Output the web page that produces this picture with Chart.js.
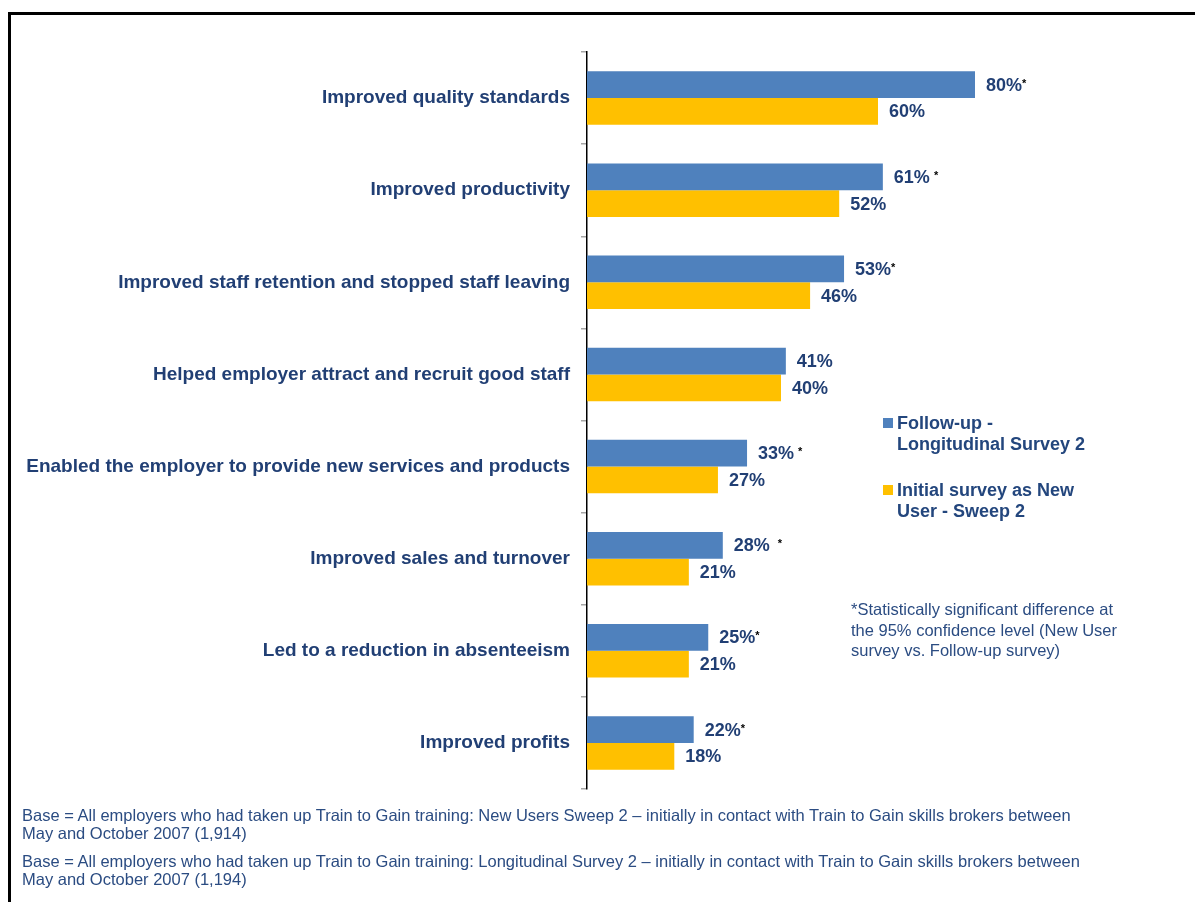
<!DOCTYPE html>
<html>
<head>
<meta charset="utf-8">
<script src="https://cdn.jsdelivr.net/npm/chart.js@4"></script>
<style>
  body{margin:0;background:#fff;font-family:"Liberation Sans",Arial,sans-serif;}
  #wrap{position:relative;width:1195px;height:902px;overflow:hidden;}
  #frame{position:absolute;left:8px;top:12px;width:1200px;height:900px;border-top:3px solid #000;border-left:3px solid #000;}
  #myChart{position:absolute;left:0;top:0;}
  .leg{position:absolute;left:883px;font-weight:bold;font-size:18px;color:#23467d;line-height:21px;}
  .leg span.box{position:absolute;left:0;top:5px;width:10px;height:10px;}
  .leg div{margin-left:14px;}
  #note{position:absolute;left:851px;top:599px;font-size:16.5px;color:#2b4c82;line-height:20.5px;}
  .base{position:absolute;left:22px;font-size:16.5px;color:#2b4c82;line-height:18px;}
</style>
</head>
<body>
<div id="wrap">
  <canvas id="myChart" width="1195" height="902"></canvas>
  <div id="frame"></div>
  <div class="leg" style="top:413px"><span class="box" style="background:#4f81bd"></span><div>Follow-up -<br>Longitudinal Survey 2</div></div>
  <div class="leg" style="top:480px"><span class="box" style="background:#ffc000"></span><div>Initial survey as New<br>User - Sweep 2</div></div>
  <div id="note">*Statistically significant difference at<br>the 95% confidence level (New User<br>survey vs. Follow-up survey)</div>
  <div class="base" style="top:806px">Base = All employers who had taken up Train to Gain training: New Users Sweep 2 – initially in contact with Train to Gain skills brokers between<br>May and October 2007 (1,914)</div>
  <div class="base" style="top:852px">Base = All employers who had taken up Train to Gain training: Longitudinal Survey 2 – initially in contact with Train to Gain skills brokers between<br>May and October 2007 (1,194)</div>
</div>
<script>
// categories, top to bottom
const categories=[
  "Improved quality standards",
  "Improved productivity",
  "Improved staff retention and stopped staff leaving",
  "Helped employer attract and recruit good staff",
  "Enabled the employer to provide new services and products",
  "Improved sales and turnover",
  "Led to a reduction in absenteeism",
  "Improved profits"
];
const followUp=[80,61,53,41,33,28,25,22];
const initialSurvey=[60,52,46,40,27,21,21,18];
// significance marks after the follow-up labels
const sigMarks=["*"," *","*",""," *","  *","*","*"];

const textBlue='#213f74';

// draws the percent labels next to the bars
const valueLabels={
  id:'valueLabels',
  afterDatasetsDraw(chart){
    const ctx=chart.ctx;
    ctx.save();
    ctx.textBaseline='middle';
    ctx.textAlign='left';
    chart.data.datasets.forEach((ds,di)=>{
      const meta=chart.getDatasetMeta(di);
      meta.data.forEach((bar,i)=>{
        const txt=ds.data[i]+'%';
        ctx.font='bold 18px "Liberation Sans", Arial, sans-serif';
        ctx.fillStyle=textBlue;
        const x=bar.x+11;
        ctx.fillText(txt,x,bar.y+1);
        if(di==0 && sigMarks[i]){
          const w=ctx.measureText(txt).width;
          ctx.font='bold 11px "Liberation Sans", Arial, sans-serif';
          ctx.fillStyle='#000';
          const pad=(sigMarks[i].length-1)*4;
          ctx.fillText('*',x+w+pad,bar.y-1);
        }
      });
    });
    ctx.restore();
  }
};

new Chart(document.getElementById('myChart'),{
  type:'bar',
  data:{
    labels:categories,
    datasets:[
      {label:'Follow-up - Longitudinal Survey 2',data:followUp,backgroundColor:'#4f81bd'},
      {label:'Initial survey as New User - Sweep 2',data:initialSurvey,backgroundColor:'#ffc000'}
    ]
  },
  options:{
    indexAxis:'y',
    responsive:false,
    animation:false,
    datasets:{bar:{categoryPercentage:0.58,barPercentage:1}},
    layout:{padding:{top:52,bottom:113,right:123,left:0}},
    plugins:{legend:{display:false},tooltip:{enabled:false}},
    scales:{
      x:{display:false,min:0,max:100},
      y:{
        afterFit(scale){scale.width=587;},
        grid:{drawOnChartArea:false,tickLength:6,color:'#a6a6a6',lineWidth:1.5},
        border:{color:'#000',width:1.5},
        ticks:{
          padding:11,
          color:textBlue,
          font:{family:'"Liberation Sans", Arial, sans-serif',size:19,weight:'bold'}
        }
      }
    }
  },
  plugins:[valueLabels]
});
</script>
</body>
</html>
